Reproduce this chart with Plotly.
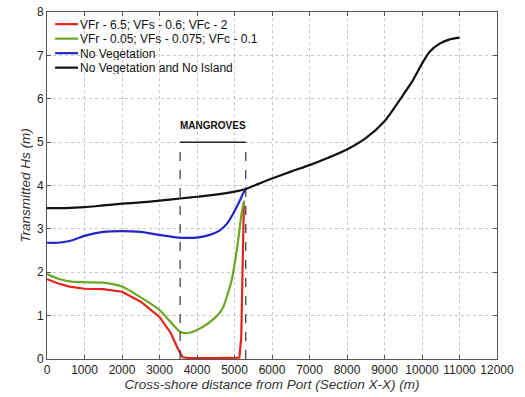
import plotly.graph_objects as go

# ---- data ----
red_x = [0, 300, 600, 1000, 1500, 2000, 2500, 3000, 3300, 3500, 3620, 3800, 4500, 5130, 5180, 5200, 5220, 5250]
red_y = [1.84, 1.74, 1.67, 1.62, 1.61, 1.55, 1.32, 0.97, 0.60, 0.22, 0.04, 0.02, 0.02, 0.03, 0.5, 1.5, 2.5, 3.6]

green_x = [0, 300, 600, 1000, 1500, 2000, 2500, 3000, 3300, 3550, 3750, 4000, 4300, 4600, 4700, 4925, 5075, 5190, 5260]
green_y = [1.96, 1.85, 1.79, 1.77, 1.76, 1.67, 1.42, 1.13, 0.85, 0.63, 0.60, 0.67, 0.82, 1.06, 1.20, 1.82, 2.59, 3.36, 3.65]

blue_x = [0, 300, 600, 1000, 1500, 2000, 2500, 3000, 3500, 4000, 4300, 4600, 4800, 4970, 5100, 5235, 5320]
blue_y = [2.68, 2.68, 2.72, 2.84, 2.93, 2.95, 2.93, 2.86, 2.80, 2.80, 2.85, 2.96, 3.12, 3.36, 3.58, 3.82, 3.95]

black_x = [0, 500, 1000, 1500, 2000, 2500, 3000, 3550, 4000, 4500, 5000, 5300, 5500, 5700, 6000, 6500, 7000, 7500,
           8000, 8500, 9000, 9490, 9760, 10000, 10200, 10470, 10740, 11000]
black_y = [3.48, 3.48, 3.50, 3.54, 3.58, 3.61, 3.65, 3.70, 3.74, 3.79, 3.86, 3.92, 3.99, 4.06, 4.16, 4.32, 4.47, 4.64,
           4.83, 5.09, 5.48, 6.08, 6.43, 6.81, 7.08, 7.27, 7.37, 7.41]

names = ["VFr - 6.5; VFs - 0.6; VFc - 2",
         "VFr - 0.05; VFs - 0.075; VFc - 0.1",
         "No Vegetation",
         "No Vegetation and No Island"]
colors = ["#e5231b", "#6aa823", "#2326c4", "#111111"]

mangrove_x = [3550, 5300]
mangrove_top = 5
mangrove_label = "MANGROVES"

x_ticks = list(range(0, 12001, 1000))
y_ticks = list(range(0, 9))

FONT = "Liberation Sans"

# ---- figure ----
fig = go.Figure()
series = [(red_x, red_y, "linear"),
          (green_x, green_y, "spline"),
          (blue_x, blue_y, "spline"),
          (black_x, black_y, "spline")]
for (xs, ys, shp), nm, c in zip(series, names, colors):
    fig.add_trace(go.Scatter(x=xs, y=ys, mode="lines", name=nm, showlegend=False,
                             line=dict(color=c, width=2.2, shape=shp, smoothing=0.7)))

# legend drawn inside the axes (MATLAB style, compact)
leg_y0, leg_dy = 0.965, 0.0418
for i, (nm, c) in enumerate(zip(names, colors)):
    yy = leg_y0 - i * leg_dy
    fig.add_shape(type="line", xref="paper", yref="paper", x0=0.018, x1=0.069, y0=yy, y1=yy,
                  line=dict(color=c, width=2.2))
    fig.add_annotation(xref="paper", yref="paper", x=0.071, y=yy, text=nm, showarrow=False,
                       xanchor="left", yanchor="middle", height=13, borderpad=0,
                       font=dict(size=12, color="#111111", family=FONT))

# mangrove box
for xv in mangrove_x:
    fig.add_shape(type="line", x0=xv, x1=xv, y0=0, y1=mangrove_top,
                  line=dict(color="#333333", width=1.2, dash="dash"))
fig.add_shape(type="line", x0=mangrove_x[0], x1=mangrove_x[1], y0=mangrove_top, y1=mangrove_top,
              line=dict(color="#222222", width=1.5))
fig.add_annotation(x=sum(mangrove_x) / 2, y=mangrove_top, text="<b>" + mangrove_label + "</b>",
                   showarrow=False, yshift=17, font=dict(size=10, color="#111111", family=FONT))

axis_common = dict(showline=True, linecolor="#555555", linewidth=1, mirror="ticks",
                   ticks="inside", ticklen=4, tickcolor="#555555",
                   showgrid=True, gridcolor="#c8c8c8", griddash="dot", gridwidth=1,
                   zeroline=False, automargin=False,
                   tickfont=dict(size=12, color="#222222", family=FONT))

fig.update_xaxes(range=[0, 12000], tickvals=x_ticks, ticktext=[str(v) for v in x_ticks],
                 title=dict(text="<i>Cross-shore distance from Port (Section X-X) (m)</i>",
                            font=dict(size=13.5, color="#333333", family=FONT), standoff=2),
                 **axis_common)
fig.update_yaxes(range=[0, 8], tickvals=y_ticks, ticktext=[str(v) for v in y_ticks],
                 title=dict(text="<i>Transmitted Hs (m)</i>",
                            font=dict(size=13.5, color="#333333", family=FONT), standoff=3),
                 **axis_common)

fig.update_layout(
    width=525, height=397,
    margin=dict(l=47, r=28, t=12, b=38),
    paper_bgcolor="white", plot_bgcolor="white",
    showlegend=False,
)

fig.write_html("out.html")
